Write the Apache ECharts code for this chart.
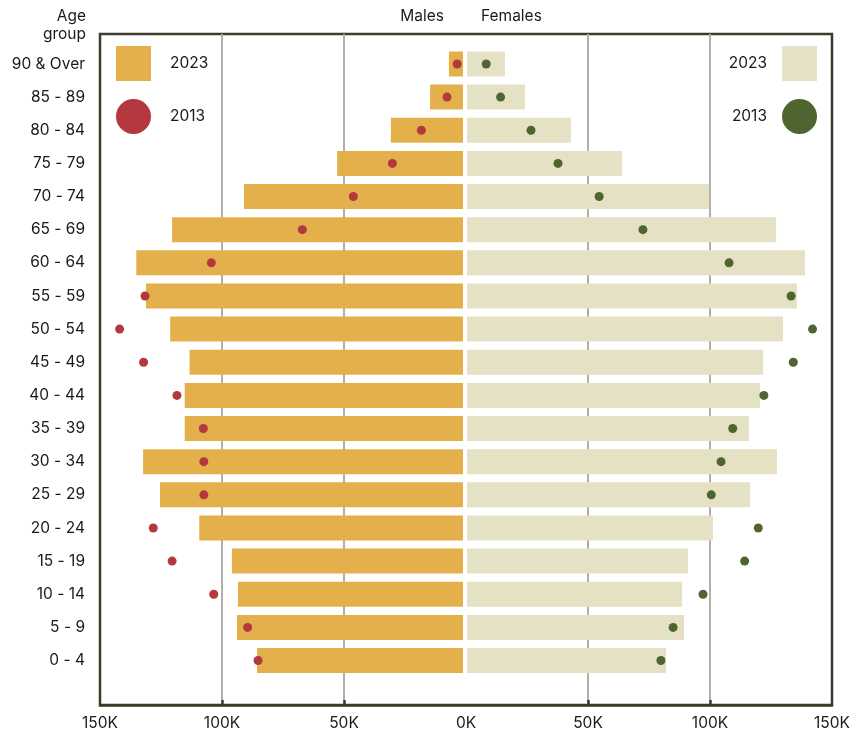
<!DOCTYPE html>
<html>
<head>
<meta charset="utf-8">
<style>
  html, body { margin: 0; padding: 0; background: #ffffff; }
  #chart { width: 857px; height: 734px; }
</style>
<script src="https://cdn.jsdelivr.net/npm/echarts@6/dist/echarts.min.js"></script>
</head>
<body>
<div id="chart"></div>
<script>
// Age groups, bottom to top
const ageGroups = ['0 - 4', '5 - 9', '10 - 14', '15 - 19', '20 - 24', '25 - 29', '30 - 34', '35 - 39',
  '40 - 44', '45 - 49', '50 - 54', '55 - 59', '60 - 64', '65 - 69', '70 - 74', '75 - 79',
  '80 - 84', '85 - 89', '90 & Over'];

const males2023 = [85100, 93400, 93000, 95500, 109000, 125200, 132200, 115000, 115000, 113000,
  121000, 131000, 135000, 120200, 90500, 52000, 29800, 13600, 5800];
const males2013 = [84700, 89000, 103000, 120200, 128000, 107100, 107100, 107300, 118200, 132000,
  141900, 131400, 104000, 66400, 45300, 29200, 17200, 6600, 2400];
const females2023 = [81800, 89200, 88400, 90800, 101100, 116300, 127400, 115900, 120400, 121700,
  129900, 135600, 138900, 127000, 99500, 63700, 42700, 23800, 15600];
const females2013 = [79700, 84700, 97000, 114100, 119700, 100400, 104400, 109200, 122000, 134100,
  142000, 133200, 107700, 72300, 54300, 37400, 26300, 13800, 7900];

const gridTickValues = [-100000, -50000, 50000, 100000];

const FONT = 'Inter';
const FS = 15.5;
const TXT = '#1a1a1a';
const FRAME = '#3e3a2b';
const GRIDC = '#b2aea8';
const ORANGE = '#e3b04b';
const BEIGE = '#e5e1c4';
const RED = '#b3393e';
const GREEN = '#4e6530';

const chart = echarts.init(document.getElementById('chart'), null, { renderer: 'canvas' });

const clear = 'rgba(0,0,0,0)';
const titleStyle = { fontSize: FS, fontWeight: 'normal', color: TXT, fontFamily: FONT };

const option = {
  backgroundColor: '#ffffff',
  animation: false,
  textStyle: { fontFamily: FONT },
  title: [
    { text: 'Age', right: 771, top: 8, padding: 0, textStyle: titleStyle },
    { text: 'group', right: 771, top: 26, padding: 0, textStyle: titleStyle },
    { text: 'Males', right: 413, top: 8, padding: 0, textStyle: titleStyle },
    { text: 'Females', left: 481, top: 8, padding: 0, textStyle: titleStyle }
  ],
  legend: [
    {
      left: 116, top: 46, orient: 'vertical', itemWidth: 35, itemHeight: 35, itemGap: 18,
      selectedMode: false, padding: 0,
      data: [{ name: 'M2023', icon: 'rect' }, { name: 'M2013', icon: 'circle' }],
      formatter: n => n.slice(1),
      textStyle: { fontSize: FS, color: TXT, fontFamily: FONT, padding: [0, 0, 0, 14] }
    },
    {
      right: 40, top: 46, orient: 'vertical', align: 'right', itemWidth: 35, itemHeight: 35, itemGap: 18,
      selectedMode: false, padding: 0,
      data: [{ name: 'F2023', icon: 'rect' }, { name: 'F2013', icon: 'circle' }],
      formatter: n => n.slice(1),
      textStyle: { fontSize: FS, color: TXT, fontFamily: FONT, padding: [0, 10, 0, 0] }
    }
  ],
  grid: [
    { left: 100, right: 394, top: 47.4, bottom: 56.9 },
    { left: 467, right: 25, top: 47.4, bottom: 56.9 },
    { left: 100, right: 25, top: 34, bottom: 29, show: true, borderColor: FRAME, borderWidth: 2.5, backgroundColor: clear, z: 0 }
  ],
  xAxis: [
    { gridIndex: 0, type: 'value', inverse: true, min: 0, max: 150000, show: false },
    { gridIndex: 1, type: 'value', min: 0, max: 150000, show: false },
    {
      gridIndex: 2, type: 'value', min: -150000, max: 150000, interval: 50000,
      axisLine: { show: true, lineStyle: { color: FRAME, width: 2.5 } },
      axisTick: { show: true, inside: true, length: 5, customValues: gridTickValues, lineStyle: { color: FRAME, width: 2.5 } },
      axisLabel: {
        show: true, margin: 10, fontSize: FS, color: TXT, fontFamily: FONT,
        formatter: v => Math.round(Math.abs(v) / 1000) + 'K'
      },
      splitLine: { show: true, lineStyle: { color: GRIDC, width: 2 } }
    }
  ],
  yAxis: [
    {
      gridIndex: 0, type: 'category', data: ageGroups,
      axisLine: { show: false }, axisTick: { show: false },
      axisLabel: { margin: 15, fontSize: FS, color: TXT, fontFamily: FONT }
    },
    { gridIndex: 1, type: 'category', data: ageGroups, show: false },
    { gridIndex: 2, type: 'value', show: false, min: 0, max: 1, splitLine: { show: false } }
  ],
  series: [
    {
      name: 'M2023', type: 'bar', xAxisIndex: 0, yAxisIndex: 0, data: males2023,
      barWidth: 25, itemStyle: { color: ORANGE }, z: 2
    },
    {
      name: 'M2013', type: 'scatter', xAxisIndex: 0, yAxisIndex: 0, data: males2013,
      symbol: 'circle', symbolSize: 9, itemStyle: { color: RED, opacity: 1 }, z: 5
    },
    {
      name: 'F2023', type: 'bar', xAxisIndex: 1, yAxisIndex: 1, data: females2023,
      barWidth: 25, itemStyle: { color: BEIGE }, z: 2
    },
    {
      name: 'F2013', type: 'scatter', xAxisIndex: 1, yAxisIndex: 1, data: females2013,
      symbol: 'circle', symbolSize: 9, itemStyle: { color: GREEN, opacity: 1 }, z: 5
    }
  ]
};

chart.setOption(option);
</script>
</body>
</html>
